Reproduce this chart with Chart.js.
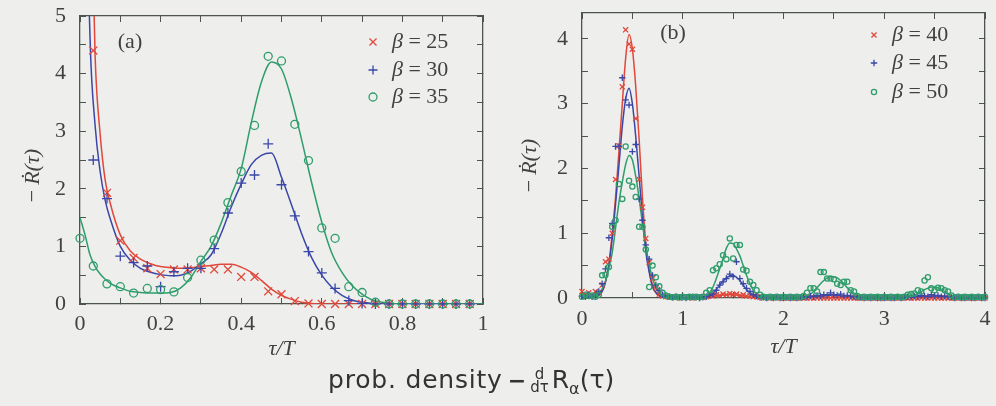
<!DOCTYPE html>
<html>
<head>
<meta charset="utf-8">
<script src="https://cdn.jsdelivr.net/npm/chart.js@4.4.1/dist/chart.umd.min.js"></script>
<style>
  html, body { margin: 0; padding: 0; background: #eeeeec; }
  #page { position: relative; width: 996px; height: 406px; overflow: hidden; }
  #chartA { position: absolute; left: 0; top: 0; }
  #chartB { position: absolute; left: 500px; top: 0; }
  #note { position: absolute; left: 328px; top: 364px; font-family: "DejaVu Sans"; font-size: 25px; line-height: 32px; color: #333; white-space: nowrap; }
  #note .words { letter-spacing: 0.8px; }
  #note .dash { font-weight: bold; font-size: 22px; margin: 0 3px 0 5px; }
  #note .frac { display: inline-block; vertical-align: middle; text-align: center; font-size: 15px; line-height: 13px; margin: 0 3px 0 1px; }
  #note sub { font-size: 16px; }
</style>
</head>
<body>
<div id="page">
  <canvas id="chartA" width="500" height="370"></canvas>
  <canvas id="chartB" width="496" height="370"></canvas>
  <div id="note"><span class="words">prob. density</span><span class="dash">−</span><span class="frac">d<br>dτ</span>R<sub>α</sub>(τ)</div>
</div>
<script>
// panel (a): tau/T sampled every 1/30
var aPointX = [0, 0.033, 0.067, 0.1, 0.133, 0.167, 0.2, 0.233, 0.267, 0.3,
  0.333, 0.367, 0.4, 0.433, 0.467, 0.5, 0.533, 0.567, 0.6, 0.633,
  0.667, 0.7, 0.733, 0.767, 0.8, 0.833, 0.867, 0.9, 0.933, 0.967];
var aRed = [null, 4.4, 1.93, 1.1, 0.8, 0.62, 0.52, 0.6, 0.6, 0.62,
  0.6, 0.6, 0.47, 0.47, 0.22, 0.17, 0.05, 0.01, 0, 0,
  0, 0, 0, 0, 0, 0, 0, 0, 0, 0];
var aBlue = [null, 2.5, 1.83, 0.83, 0.72, 0.66, 0.3, 0.56, 0.62, 0.62,
  0.96, 1.58, 2.1, 2.24, 2.78, 2.07, 1.53, 0.91, 0.54, 0.27,
  0.06, 0.01, 0, 0, 0, 0, 0, 0, 0, 0];
var aGreen = [1.14, 0.66, 0.35, 0.3, 0.19, 0.27, 0.25, 0.21, 0.46, 0.76,
  1.11, 1.76, 2.3, 3.1, 4.3, 4.22, 3.12, 2.49, 1.32, 1.14,
  0.3, 0.2, 0.03, 0, 0, 0, 0, 0, 0, 0];

// panel (a): fitted curves
var aCurveX = [0, 0.0125, 0.025, 0.0375, 0.05, 0.0625, 0.075,
  0.1, 0.125, 0.15, 0.175, 0.2, 0.225, 0.25, 0.275, 0.3, 0.325, 0.35, 0.375,
  0.4, 0.425, 0.45, 0.475, 0.5, 0.525, 0.55, 0.575, 0.6, 0.625, 0.65, 0.675,
  0.7, 0.725, 0.75, 0.775, 0.8, 0.85, 0.9, 0.95, 1];
var aRedFit = [20, 14, 8, 4.3, 2.95, 2.15, 1.75,
  1.2, 0.92, 0.78, 0.7, 0.65, 0.63, 0.62, 0.63, 0.65, 0.67, 0.69, 0.69,
  0.64, 0.55, 0.41, 0.26, 0.15, 0.08, 0.03, 0.01, 0, 0, 0, 0,
  0, 0, 0, 0, 0, 0, 0, 0, 0];
var aBlueFit = [20, 9, 4.6, 3.1, 2.3, 1.8, 1.48,
  1.0, 0.76, 0.62, 0.55, 0.51, 0.49, 0.5, 0.57, 0.7, 0.85, 1.22, 1.68,
  2.08, 2.42, 2.58, 2.62, 2.2, 1.72, 1.22, 0.8, 0.5, 0.29, 0.15, 0.07,
  0.03, 0.01, 0, 0, 0, 0, 0, 0, 0];
var aGreenFit = [1.5, 1.2, 0.85, 0.65, 0.52, 0.43, 0.36,
  0.28, 0.22, 0.2, 0.19, 0.19, 0.2, 0.28, 0.46, 0.74, 1.0, 1.4, 1.88,
  2.35, 3.15, 3.85, 4.2, 4.08, 3.55, 2.85, 2.1, 1.42, 0.88, 0.55, 0.32,
  0.17, 0.07, 0.03, 0.01, 0, 0, 0, 0, 0];

// panel (b): tau/T sampled every 1/30, points and curves share the grid
var bX = [0, 0.033, 0.067, 0.1, 0.133, 0.167, 0.2, 0.233, 0.267, 0.3,
  0.333, 0.367, 0.4, 0.433, 0.467, 0.5, 0.533, 0.567, 0.6, 0.633,
  0.667, 0.7, 0.733, 0.767, 0.8, 0.833, 0.867, 0.9, 0.933, 0.967,
  1, 1.033, 1.067, 1.1, 1.133, 1.167, 1.2, 1.233, 1.267, 1.3,
  1.333, 1.367, 1.4, 1.433, 1.467, 1.5, 1.533, 1.567, 1.6, 1.633,
  1.667, 1.7, 1.733, 1.767, 1.8, 1.833, 1.867, 1.9, 1.933, 1.967,
  2, 2.033, 2.067, 2.1, 2.133, 2.167, 2.2, 2.233, 2.267, 2.3,
  2.333, 2.367, 2.4, 2.433, 2.467, 2.5, 2.533, 2.567, 2.6, 2.633,
  2.667, 2.7, 2.733, 2.767, 2.8, 2.833, 2.867, 2.9, 2.933, 2.967,
  3, 3.033, 3.067, 3.1, 3.133, 3.167, 3.2, 3.233, 3.267, 3.3,
  3.333, 3.367, 3.4, 3.433, 3.467, 3.5, 3.533, 3.567, 3.6, 3.633,
  3.667, 3.7, 3.733, 3.767, 3.8, 3.833, 3.867, 3.9, 3.933, 3.967,
  4];
var bRed = [0.1, 0.05, 0.08, 0.04, 0.1, 0.08, 0.2, 0.56, 0.6, 1.0,
  1.83, 2.35, 3.26, 4.14, 3.92, 3.84, 2.77, 1.83, 1.4, 0.92,
  0.55, 0.3, 0.15, 0.06, 0.03, 0.02, 0.01, 0.02, 0.01, 0,
  0.01, 0.02, 0.01, 0, 0.01, 0.02, 0.01, 0.02, 0.04, 0.03,
  0.05, 0.04, 0.06, 0.05, 0.07, 0.05, 0.06, 0.04, 0.05, 0.03,
  0.03, 0.02, 0.02, 0.01, 0, 0.01, 0, 0, 0.01, 0,
  0, 0, 0, 0, 0, 0, 0, 0, 0, 0,
  0, 0, 0, 0, 0, 0, 0, 0, 0, 0,
  0, 0, 0, 0, 0, 0, 0, 0, 0, 0,
  0, 0, 0, 0, 0, 0, 0, 0, 0, 0,
  0, 0, 0, 0, 0, 0, 0, 0, 0, 0,
  0, 0, 0, 0, 0, 0, 0, 0, 0, 0,
  0];
var bBlue = [0.03, 0.02, 0.05, 0.02, 0.04, 0.1, 0.22, 0.45, 0.93, 1.15,
  2.34, 2.34, 3.4, 3.06, 2.98, 2.26, 2.37, 1.53, 1.2, 0.82,
  0.6, 0.35, 0.2, 0.12, 0.05, 0.03, 0.02, 0.01, 0.02, 0.01,
  0.01, 0, 0.01, 0.02, 0.01, 0, 0.01, 0.02, 0.04, 0.06,
  0.12, 0.2, 0.25, 0.3, 0.37, 0.33, 0.56, 0.3, 0.22, 0.15,
  0.1, 0.05, 0.03, 0.01, 0.01, 0, 0.01, 0, 0.01, 0,
  0, 0.01, 0, 0.01, 0, 0.01, 0.02, 0.01, 0.03, 0.02,
  0.04, 0.03, 0.05, 0.04, 0.08, 0.05, 0.04, 0.06, 0.03, 0.04,
  0.03, 0.02, 0.01, 0.01, 0, 0.01, 0, 0.01, 0, 0,
  0, 0.01, 0, 0, 0.01, 0, 0.01, 0.02, 0.01, 0.03,
  0.02, 0.04, 0.03, 0.02, 0.05, 0.03, 0.04, 0.02, 0.03, 0.02,
  0.01, 0, 0.01, 0, 0, 0.01, 0, 0, 0.01, 0,
  0];
var bGreen = [0.02, 0.05, 0.03, 0.04, 0.02, 0.05, 0.35, 0.36, 0.48, 1.1,
  1.2, 1.76, 1.53, 2.34, 1.81, 1.72, 1.56, 1.1, 1.1, 0.75,
  0.17, 0.5, 0.32, 0.18, 0.08, 0.04, 0.02, 0.01, 0.02, 0.01,
  0.02, 0.01, 0.02, 0.01, 0.02, 0.01, 0.02, 0.08, 0.12, 0.43,
  0.46, 0.52, 0.66, 0.6, 0.92, 0.61, 0.82, 0.82, 0.44, 0.42,
  0.25, 0.2, 0.12, 0.05, 0.02, 0.01, 0.02, 0.01, 0.02, 0.01,
  0.02, 0.01, 0.02, 0.01, 0.02, 0.01, 0.03, 0.08, 0.15, 0.15,
  0.1, 0.4, 0.4, 0.3, 0.3, 0.29, 0.22, 0.2, 0.25, 0.25,
  0.12, 0.1, 0.03, 0.01, 0.02, 0.01, 0.02, 0.01, 0.02, 0.01,
  0.02, 0.01, 0.02, 0.01, 0.02, 0.01, 0.02, 0.05, 0.06, 0.07,
  0.12, 0.1, 0.27, 0.32, 0.15, 0.12, 0.16, 0.15, 0.12, 0.1,
  0.04, 0.01, 0.02, 0.01, 0.02, 0.01, 0.02, 0.01, 0.02, 0.01,
  0.02];
var bRedFit = [0.02, 0.02, 0.02, 0.02, 0.03, 0.05, 0.1, 0.25, 0.54, 1.0,
  1.55, 2.27, 3.0, 3.7, 4.07, 3.85, 3.27, 2.45, 1.55, 0.85,
  0.43, 0.2, 0.08, 0.03, 0.01, 0, 0, 0, 0, 0,
  0, 0, 0, 0, 0, 0, 0, 0, 0.01, 0.02,
  0.03, 0.04, 0.045, 0.05, 0.05, 0.05, 0.045, 0.04, 0.03, 0.02,
  0.015, 0.01, 0.005, 0, 0, 0, 0, 0, 0, 0,
  0, 0, 0, 0, 0, 0, 0, 0, 0, 0,
  0, 0, 0, 0, 0, 0, 0, 0, 0, 0,
  0, 0, 0, 0, 0, 0, 0, 0, 0, 0,
  0, 0, 0, 0, 0, 0, 0, 0, 0, 0,
  0, 0, 0, 0, 0, 0, 0, 0, 0, 0,
  0, 0, 0, 0, 0, 0, 0, 0, 0, 0,
  0];
var bBlueFit = [0.02, 0.02, 0.02, 0.02, 0.03, 0.04, 0.1, 0.25, 0.5, 0.92,
  1.45, 2.05, 2.65, 3.07, 3.24, 3.0, 2.5, 1.88, 1.25, 0.72,
  0.4, 0.17, 0.09, 0.04, 0.02, 0.01, 0, 0, 0, 0,
  0, 0, 0, 0, 0, 0, 0, 0.01, 0.03, 0.06,
  0.13, 0.2, 0.26, 0.31, 0.34, 0.35, 0.32, 0.27, 0.2, 0.13,
  0.08, 0.05, 0.02, 0.01, 0, 0, 0, 0, 0, 0,
  0, 0, 0, 0, 0, 0, 0, 0, 0.01, 0.02,
  0.03, 0.04, 0.045, 0.05, 0.05, 0.05, 0.045, 0.04, 0.035, 0.03,
  0.02, 0.015, 0.01, 0, 0, 0, 0, 0, 0, 0,
  0, 0, 0, 0, 0, 0, 0, 0, 0.01, 0.015,
  0.02, 0.025, 0.03, 0.03, 0.03, 0.03, 0.03, 0.025, 0.02, 0.015,
  0.01, 0.005, 0, 0, 0, 0, 0, 0, 0, 0,
  0];
var bGreenFit = [0.02, 0.02, 0.02, 0.02, 0.03, 0.07, 0.14, 0.26, 0.46, 0.7,
  1.08, 1.48, 1.79, 2.06, 2.2, 2.13, 1.88, 1.54, 1.15, 0.8,
  0.52, 0.3, 0.17, 0.09, 0.04, 0.02, 0.01, 0, 0, 0,
  0, 0, 0, 0, 0, 0, 0, 0.03, 0.08, 0.17,
  0.3, 0.45, 0.61, 0.77, 0.85, 0.84, 0.76, 0.65, 0.5, 0.35,
  0.22, 0.12, 0.06, 0.03, 0.01, 0, 0, 0, 0, 0,
  0, 0, 0, 0, 0, 0, 0.01, 0.03, 0.06, 0.1,
  0.16, 0.22, 0.27, 0.31, 0.33, 0.33, 0.31, 0.27, 0.22, 0.16,
  0.11, 0.07, 0.04, 0.02, 0.01, 0, 0, 0, 0, 0,
  0, 0, 0, 0, 0, 0, 0, 0.01, 0.02, 0.04,
  0.07, 0.1, 0.13, 0.15, 0.17, 0.17, 0.16, 0.13, 0.1, 0.07,
  0.04, 0.02, 0.01, 0, 0, 0, 0, 0, 0, 0,
  0];

var aBetas = ["25", "30", "35"];
var bBetas = ["40", "45", "50"];

var axisColor = "#4d544e";
var textColor = "#3f423f";
var redColor = "#e1473a";
var blueColor = "#3a47a8";
var greenColor = "#2f9d6b";
var serif = "'Liberation Serif', 'Times New Roman', serif";

function toPoints(xs, ys) {
  return xs.map(function (x, i) {
    return { x: x, y: ys[i] };
  });
}

function halfLabel(v) {
  // label only every second tick
  var t = Math.round(v * 2);
  return t % 2 === 0 ? String(t / 2) : "";
}

function tenthLabel(v) {
  var t = Math.round(v * 10);
  return t % 2 === 0 ? String(t / 10) : "";
}

function gridOpts() {
  return {
    drawOnChartArea: false,
    drawTicks: true,
    tickLength: -6,
    color: axisColor,
    lineWidth: 1,
  };
}

function borderOpts() {
  return { display: true, color: axisColor, width: 1.3 };
}

// fixed axis sizes, and no extra room for half labels at the ends
function fixSize(w, h) {
  return function (s) {
    if (w !== null) s.width = w;
    if (h !== null) s.height = h;
    s.paddingTop = 0;
    s.paddingBottom = 0;
    s.paddingLeft = 0;
    s.paddingRight = 0;
  };
}

function makeScales(o) {
  var tickFont = { family: serif, size: 22 };
  var titleFont = { family: serif, size: 22, style: "italic" };
  return {
    x: {
      type: "linear",
      position: "bottom",
      min: o.xMin,
      max: o.xMax,
      afterFit: fixSize(null, o.xAxisHeight),
      grid: gridOpts(),
      border: borderOpts(),
      ticks: {
        stepSize: o.xStep,
        autoSkip: false,
        maxRotation: 0,
        includeBounds: false,
        padding: o.xTickPad,
        color: textColor,
        font: tickFont,
        callback: o.xLabel,
      },
      title: {
        display: true,
        text: "τ/T",
        color: textColor,
        font: titleFont,
        padding: { top: 0, bottom: o.xTitlePad },
      },
    },
    y: {
      type: "linear",
      position: "left",
      min: 0,
      max: o.yMax,
      afterFit: fixSize(o.yAxisWidth, null),
      grid: gridOpts(),
      border: borderOpts(),
      ticks: {
        stepSize: 0.5,
        autoSkip: false,
        includeBounds: false,
        padding: 20,
        color: textColor,
        font: tickFont,
        callback: halfLabel,
      },
      title: {
        display: true,
        text: o.yTitle,
        color: textColor,
        font: titleFont,
        padding: { top: o.yTitlePad, bottom: 0 },
      },
    },
    x2: {
      type: "linear",
      position: "top",
      min: o.xMin,
      max: o.xMax,
      afterFit: fixSize(null, 0),
      grid: gridOpts(),
      border: borderOpts(),
      ticks: { stepSize: o.xStep, autoSkip: false, includeBounds: false, display: false },
    },
    y2: {
      type: "linear",
      position: "right",
      min: 0,
      max: o.yMax,
      afterFit: fixSize(0, null),
      grid: gridOpts(),
      border: borderOpts(),
      ticks: { stepSize: 0.5, autoSkip: false, includeBounds: false, display: false },
    },
  };
}

function pointSet(xs, ys, style, radius, color, order) {
  return {
    data: toPoints(xs, ys),
    showLine: false,
    pointStyle: style,
    pointRadius: radius,
    pointBorderWidth: 1.3,
    pointBorderColor: color,
    pointBackgroundColor: "rgba(0,0,0,0)",
    borderColor: color,
    order: order,
    clip: 10,
  };
}

function curveSet(xs, ys, color, order) {
  return {
    data: toPoints(xs, ys),
    showLine: true,
    pointRadius: 0,
    borderColor: color,
    borderWidth: 1.5,
    cubicInterpolationMode: "monotone",
    order: order,
    clip: 0,
  };
}

// draws the panel tag and the legend inside the plot area
var panelText = {
  id: "panelText",
  afterDatasetsDraw: function (chart, args, opts) {
    var ctx = chart.ctx;
    var area = chart.chartArea;
    ctx.save();
    ctx.textBaseline = "middle";
    ctx.fillStyle = textColor;
    ctx.font = "22px " + serif;
    ctx.textAlign = "center";
    ctx.fillText(opts.tag, area.left + opts.tagX, area.top + opts.tagY);

    ctx.textAlign = "left";
    opts.items.forEach(function (item, i) {
      var x = area.right - opts.markX;
      var y = area.top + opts.rowY[i];
      ctx.strokeStyle = item.color;
      ctx.fillStyle = "rgba(0,0,0,0)";
      ctx.lineWidth = 1.3;
      Chart.helpers.drawPoint(ctx, { pointStyle: item.style, radius: item.r, borderWidth: 1.3, rotation: 0 }, x, y);

      var tx = x + opts.textGap;
      ctx.fillStyle = textColor;
      ctx.font = "italic 22px " + serif;
      ctx.fillText("β", tx, y);
      var w = ctx.measureText("β").width;
      ctx.font = "22px " + serif;
      ctx.fillText(" = " + item.name, tx + w, y);
    });
    ctx.restore();
  },
};

var chartA = new Chart(document.getElementById("chartA"), {
  type: "scatter",
  data: {
    datasets: [
      pointSet(aPointX, aRed, "crossRot", 5.6, redColor, 2),
      pointSet(aPointX, aBlue, "cross", 5, blueColor, 1),
      pointSet(aPointX, aGreen, "circle", 4, greenColor, 0),
      curveSet(aCurveX, aRedFit, redColor, 5),
      curveSet(aCurveX, aBlueFit, blueColor, 4),
      curveSet(aCurveX, aGreenFit, greenColor, 3),
    ],
  },
  options: {
    responsive: false,
    animation: false,
    devicePixelRatio: 1,
    events: [],
    layout: { padding: { left: 0, top: 16, right: 17, bottom: 0 } },
    scales: makeScales({
      xMin: 0, xMax: 1, xStep: 0.1, xLabel: tenthLabel, yMax: 5,
      yTitle: "−\u2009Ṙ(τ)\u2003\u2002",
      xAxisHeight: 66, yAxisWidth: 80, xTickPad: 13, xTitlePad: 8, yTitlePad: 20,
    }),
    plugins: {
      legend: { display: false },
      tooltip: { enabled: false },
      panelText: {
        tag: "(a)", tagX: 50, tagY: 26, markX: 110, textGap: 19, rowY: [26, 54, 81],
        items: [
          { style: "crossRot", r: 5, color: redColor, name: aBetas[0] },
          { style: "cross", r: 4.5, color: blueColor, name: aBetas[1] },
          { style: "circle", r: 4, color: greenColor, name: aBetas[2] },
        ],
      },
    },
  },
  plugins: [panelText],
});

var chartB = new Chart(document.getElementById("chartB"), {
  type: "scatter",
  data: {
    datasets: [
      pointSet(bX, bRed, "crossRot", 3.6, redColor, 2),
      pointSet(bX, bBlue, "cross", 3.2, blueColor, 1),
      pointSet(bX, bGreen, "circle", 2.6, greenColor, 0),
      curveSet(bX, bRedFit, redColor, 5),
      curveSet(bX, bBlueFit, blueColor, 4),
      curveSet(bX, bGreenFit, greenColor, 3),
    ],
  },
  options: {
    responsive: false,
    animation: false,
    devicePixelRatio: 1,
    events: [],
    layout: { padding: { left: 0, top: 13, right: 11, bottom: 0 } },
    scales: makeScales({
      xMin: 0, xMax: 4, xStep: 0.5, xLabel: halfLabel, yMax: 4.4,
      yTitle: "−\u2009Ṙ(τ)\u2003",
      xAxisHeight: 72, yAxisWidth: 82, xTickPad: 14, xTitlePad: 10, yTitlePad: 17,
    }),
    plugins: {
      legend: { display: false },
      tooltip: { enabled: false },
      panelText: {
        tag: "(b)", tagX: 91, tagY: 20, markX: 111, textGap: 18, rowY: [22, 50, 79],
        items: [
          { style: "crossRot", r: 3.6, color: redColor, name: bBetas[0] },
          { style: "cross", r: 3.2, color: blueColor, name: bBetas[1] },
          { style: "circle", r: 2.6, color: greenColor, name: bBetas[2] },
        ],
      },
    },
  },
  plugins: [panelText],
});
</script>
</body>
</html>
